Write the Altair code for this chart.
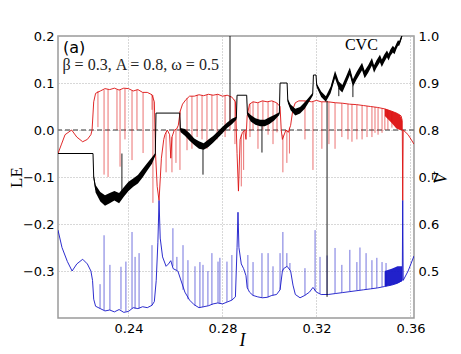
import altair as alt
import pandas as pd

# ---------------- data ----------------
# largest Lyapunov exponent (red), (I, LE)
red_curve = [
    (0.2100, -0.050), (0.2115, -0.030), (0.2130, -0.010), (0.2158, 0.000), (0.2180, -0.015),
    (0.2205, -0.025), (0.2225, -0.020), (0.2240, -0.010), (0.2245, 0.000), (0.2252, 0.060),
    (0.2260, 0.078), (0.2280, 0.083), (0.2300, 0.088), (0.2320, 0.086), (0.2340, 0.089),
    (0.2360, 0.085), (0.2380, 0.089), (0.2400, 0.088), (0.2420, 0.083), (0.2440, 0.086),
    (0.2460, 0.080), (0.2480, 0.080), (0.2500, 0.075), (0.2510, 0.060), (0.2515, -0.050),
    (0.2522, -0.120), (0.2530, -0.150), (0.2540, -0.060), (0.2550, -0.020), (0.2555, -0.010),
    (0.2565, 0.000), (0.2575, -0.010), (0.2580, -0.060), (0.2585, -0.015), (0.2595, 0.000),
    (0.2605, 0.002), (0.2612, 0.010), (0.2620, 0.040), (0.2630, 0.055), (0.2645, 0.065),
    (0.2660, 0.072), (0.2680, 0.072), (0.2700, 0.075), (0.2720, 0.073), (0.2740, 0.076),
    (0.2760, 0.074), (0.2780, 0.076), (0.2800, 0.072), (0.2820, 0.074), (0.2840, 0.070),
    (0.2855, 0.060), (0.2862, -0.050), (0.2868, -0.130), (0.2875, -0.020), (0.2885, -0.005),
    (0.2895, 0.000), (0.2900, -0.020), (0.2905, 0.030), (0.2915, 0.055), (0.2930, 0.060),
    (0.2950, 0.058), (0.2970, 0.062), (0.2990, 0.060), (0.3010, 0.062), (0.3030, 0.058),
    (0.3045, 0.050), (0.3050, 0.000), (0.3055, -0.020), (0.3070, 0.000), (0.3080, -0.005),
    (0.3090, 0.010), (0.3100, 0.045), (0.3110, 0.058), (0.3125, 0.062), (0.3150, 0.062),
    (0.3180, 0.060), (0.3200, 0.063), (0.3220, 0.060), (0.3250, 0.060), (0.3280, 0.058),
    (0.3310, 0.057), (0.3340, 0.055), (0.3370, 0.054), (0.3400, 0.052), (0.3430, 0.050),
    (0.3460, 0.048), (0.3490, 0.045), (0.3520, 0.040), (0.3545, 0.035), (0.3560, 0.030),
    (0.3565, 0.020), (0.3567, -0.150), (0.3569, 0.000), (0.3590, -0.010), (0.3615, -0.030),
]
# red dips (I, top, bottom)
red_spikes = [
    (0.2270, 0.083, 0.006), (0.2296, 0.085, -0.095), (0.2313, 0.087, -0.100), (0.2351, 0.086, 0.000),
    (0.2364, 0.086, -0.078), (0.2385, 0.088, -0.020), (0.2415, 0.084, -0.064), (0.2436, 0.086, 0.000),
    (0.2462, 0.080, -0.049), (0.2500, 0.075, 0.043), (0.2504, 0.074, -0.155),
    (0.2560, -0.005, -0.090), (0.2585, -0.015, -0.090), (0.2602, 0.001, -0.070),
    (0.2619, 0.040, -0.085), (0.2649, 0.068, -0.043), (0.2670, 0.072, -0.040), (0.2692, 0.075, -0.015),
    (0.2713, 0.074, -0.020), (0.2734, 0.075, -0.040), (0.2755, 0.075, 0.000), (0.2777, 0.076, -0.020),
    (0.2811, 0.073, -0.015), (0.2832, 0.072, 0.000), (0.2853, 0.065, -0.030),
    (0.2880, -0.010, -0.120), (0.2890, -0.002, -0.085),
    (0.2917, 0.056, -0.015), (0.2930, 0.060, 0.000), (0.2951, 0.058, -0.040), (0.2972, 0.062, 0.000),
    (0.2994, 0.060, -0.010), (0.3015, 0.062, -0.030), (0.3032, 0.058, -0.005),
    (0.3057, -0.010, -0.090), (0.3074, 0.000, -0.070), (0.3085, 0.005, -0.050),
    (0.3151, 0.062, -0.020), (0.3185, 0.060, -0.085), (0.3223, 0.060, -0.040), (0.3253, 0.060, -0.030),
    (0.3279, 0.058, -0.040), (0.3308, 0.057, -0.015), (0.3334, 0.055, -0.020), (0.3351, 0.055, -0.025),
    (0.3372, 0.054, -0.020), (0.3394, 0.052, -0.020), (0.3415, 0.051, -0.015), (0.3436, 0.050, -0.015),
    (0.3449, 0.049, -0.006), (0.3462, 0.048, -0.010), (0.3479, 0.046, -0.006), (0.3491, 0.045, 0.000),
    (0.3504, 0.043, 0.000), (0.3521, 0.040, 0.005),
]
# dense red band near the end (I, low, high)
red_band = [(0.3491, 0.030, 0.045), (0.3520, 0.015, 0.040), (0.3540, 0.003, 0.036),
            (0.3555, 0.000, 0.032), (0.3564, 0.000, 0.022)]

# second Lyapunov exponent (blue), (I, LE)
blue_curve = [
    (0.2100, -0.213), (0.2117, -0.250), (0.2140, -0.280), (0.2160, -0.300), (0.2180, -0.285),
    (0.2205, -0.275), (0.2225, -0.285), (0.2240, -0.300), (0.2247, -0.320), (0.2252, -0.360),
    (0.2260, -0.375), (0.2280, -0.380), (0.2300, -0.385), (0.2320, -0.383), (0.2340, -0.387),
    (0.2360, -0.382), (0.2380, -0.388), (0.2400, -0.386), (0.2420, -0.378), (0.2440, -0.380),
    (0.2460, -0.376), (0.2480, -0.378), (0.2500, -0.373), (0.2510, -0.365), (0.2518, -0.320),
    (0.2525, -0.240), (0.2530, -0.150), (0.2535, -0.230), (0.2545, -0.270), (0.2560, -0.290),
    (0.2570, -0.285), (0.2580, -0.278), (0.2590, -0.295), (0.2610, -0.300), (0.2620, -0.315),
    (0.2640, -0.345), (0.2660, -0.362), (0.2680, -0.372), (0.2700, -0.378), (0.2720, -0.376),
    (0.2740, -0.374), (0.2760, -0.370), (0.2780, -0.368), (0.2800, -0.370), (0.2820, -0.366),
    (0.2840, -0.362), (0.2855, -0.355), (0.2862, -0.250), (0.2866, -0.175), (0.2870, -0.250),
    (0.2880, -0.285), (0.2890, -0.295), (0.2900, -0.310), (0.2905, -0.335), (0.2915, -0.345),
    (0.2930, -0.352), (0.2950, -0.355), (0.2970, -0.357), (0.2990, -0.356), (0.3010, -0.352),
    (0.3030, -0.350), (0.3045, -0.340), (0.3055, -0.300), (0.3060, -0.295), (0.3075, -0.290),
    (0.3090, -0.300), (0.3100, -0.330), (0.3110, -0.350), (0.3130, -0.357), (0.3150, -0.352),
    (0.3170, -0.345), (0.3185, -0.335), (0.3200, -0.345), (0.3220, -0.350), (0.3250, -0.350),
    (0.3280, -0.348), (0.3310, -0.346), (0.3340, -0.344), (0.3370, -0.342), (0.3400, -0.340),
    (0.3430, -0.338), (0.3460, -0.336), (0.3490, -0.333), (0.3520, -0.330), (0.3545, -0.326),
    (0.3565, -0.320), (0.3567, -0.150), (0.3569, -0.320), (0.3590, -0.300), (0.3615, -0.268),
]
# blue peaks (I, base, top)
blue_spikes = [
    (0.2279, -0.380, -0.328), (0.2296, -0.383, -0.224), (0.2321, -0.383, -0.287), (0.2368, -0.382, -0.291),
    (0.2389, -0.386, -0.280), (0.2415, -0.380, -0.217), (0.2428, -0.380, -0.270), (0.2445, -0.380, -0.262),
    (0.2500, -0.373, -0.245),
    (0.2589, -0.290, -0.209), (0.2606, -0.298, -0.270), (0.2632, -0.340, -0.245), (0.2653, -0.360, -0.277),
    (0.2683, -0.374, -0.290), (0.2704, -0.378, -0.281), (0.2717, -0.377, -0.287), (0.2738, -0.374, -0.300),
    (0.2755, -0.372, -0.262), (0.2781, -0.368, -0.280), (0.2789, -0.369, -0.272), (0.2819, -0.366, -0.280),
    (0.2840, -0.362, -0.266),
    (0.2908, -0.338, -0.266), (0.2930, -0.352, -0.281), (0.2968, -0.357, -0.262), (0.2994, -0.356, -0.262),
    (0.3015, -0.352, -0.290), (0.3045, -0.340, -0.262),
    (0.3057, -0.300, -0.217), (0.3074, -0.290, -0.262), (0.3087, -0.298, -0.283),
    (0.3151, -0.352, -0.294), (0.3194, -0.343, -0.213), (0.3215, -0.348, -0.270), (0.3245, -0.350, -0.267),
    (0.3279, -0.348, -0.251), (0.3308, -0.346, -0.287), (0.3342, -0.344, -0.255), (0.3372, -0.342, -0.281),
    (0.3385, -0.341, -0.250), (0.3411, -0.339, -0.262), (0.3436, -0.338, -0.277), (0.3457, -0.336, -0.272),
    (0.3479, -0.334, -0.281), (0.3496, -0.333, -0.283),
]
blue_band = [(0.3490, -0.333, -0.300), (0.3520, -0.330, -0.295), (0.3545, -0.326, -0.290),
             (0.3564, -0.322, -0.290)]

# current-voltage characteristic (black), (I, V, half-width of the noisy band)
cvc_curve = [
    (0.2100, 0.750, 0.000), (0.2249, 0.750, 0.000), (0.2252, 0.700, 0.005), (0.2260, 0.675, 0.008),
    (0.2280, 0.658, 0.010), (0.2300, 0.650, 0.011), (0.2320, 0.655, 0.011), (0.2340, 0.660, 0.010),
    (0.2360, 0.655, 0.011), (0.2380, 0.668, 0.010), (0.2400, 0.680, 0.010), (0.2420, 0.688, 0.009),
    (0.2440, 0.695, 0.009), (0.2460, 0.708, 0.009), (0.2480, 0.722, 0.008), (0.2500, 0.735, 0.007),
    (0.2514, 0.748, 0.003), (0.2517, 0.836, 0.000), (0.2618, 0.836, 0.000), (0.2621, 0.800, 0.004),
    (0.2640, 0.795, 0.007), (0.2660, 0.785, 0.008), (0.2680, 0.775, 0.007), (0.2700, 0.768, 0.008),
    (0.2720, 0.765, 0.007), (0.2740, 0.772, 0.008), (0.2760, 0.780, 0.007), (0.2780, 0.790, 0.007),
    (0.2800, 0.800, 0.007), (0.2820, 0.810, 0.006), (0.2840, 0.818, 0.006), (0.2859, 0.825, 0.003),
    (0.2862, 0.874, 0.000), (0.2903, 0.874, 0.000), (0.2906, 0.835, 0.004), (0.2920, 0.825, 0.007),
    (0.2940, 0.818, 0.007), (0.2960, 0.815, 0.007), (0.2980, 0.815, 0.007), (0.3000, 0.820, 0.007),
    (0.3020, 0.826, 0.006), (0.3042, 0.835, 0.003), (0.3045, 0.900, 0.000), (0.3075, 0.900, 0.000),
    (0.3078, 0.862, 0.004), (0.3090, 0.848, 0.006), (0.3110, 0.838, 0.007), (0.3130, 0.842, 0.007),
    (0.3150, 0.852, 0.007), (0.3170, 0.866, 0.005), (0.3184, 0.876, 0.003), (0.3187, 0.917, 0.000),
    (0.3198, 0.917, 0.000), (0.3201, 0.895, 0.004), (0.3220, 0.876, 0.006), (0.3240, 0.866, 0.006),
    (0.3260, 0.885, 0.007), (0.3279, 0.918, 0.008), (0.3295, 0.895, 0.008), (0.3310, 0.888, 0.008),
    (0.3325, 0.905, 0.008), (0.3342, 0.925, 0.008), (0.3355, 0.900, 0.008), (0.3370, 0.915, 0.008),
    (0.3394, 0.935, 0.008), (0.3405, 0.918, 0.008), (0.3420, 0.930, 0.008), (0.3436, 0.945, 0.008),
    (0.3445, 0.930, 0.008), (0.3455, 0.940, 0.008), (0.3470, 0.952, 0.008), (0.3478, 0.942, 0.008),
    (0.3488, 0.952, 0.008), (0.3500, 0.962, 0.007), (0.3507, 0.955, 0.007), (0.3515, 0.965, 0.007),
    (0.3525, 0.972, 0.007), (0.3532, 0.968, 0.007), (0.3540, 0.978, 0.006), (0.3547, 0.985, 0.006),
    (0.3552, 0.984, 0.005), (0.3558, 0.992, 0.005), (0.3564, 1.000, 0.003),
]
# isolated black excursions (I, V from, V to)
cvc_spikes = [(0.2372, 0.660, 0.750), (0.2717, 0.766, 0.705), (0.2832, 0.812, 1.000),
              (0.2968, 0.815, 0.752), (0.3245, 0.862, 0.445), (0.3295, 0.890, 0.872),
              (0.3355, 0.895, 0.870)]

x_ticks = [0.24, 0.28, 0.32, 0.36]
le_ticks = [-0.3, -0.2, -0.1, 0.0, 0.1, 0.2]
v_ticks = [0.5, 0.6, 0.7, 0.8, 0.9, 1.0]

# ---------------- tables ----------------
red_df = pd.DataFrame(red_curve, columns=["I", "LE"])
red_sp = pd.DataFrame(red_spikes, columns=["I", "a", "b"])
red_bd = pd.DataFrame(red_band, columns=["I", "lo", "hi"])
blue_df = pd.DataFrame(blue_curve, columns=["I", "LE"])
blue_sp = pd.DataFrame(blue_spikes, columns=["I", "a", "b"])
blue_bd = pd.DataFrame(blue_band, columns=["I", "lo", "hi"])
cvc_df = pd.DataFrame(cvc_curve, columns=["I", "V", "w"])
cvc_df["lo"] = cvc_df["V"] - cvc_df["w"]
cvc_df["hi"] = cvc_df["V"] + cvc_df["w"]
cvc_sp = pd.DataFrame(cvc_spikes, columns=["I", "a", "b"])
zero_df = pd.DataFrame({"LE": [0.0]})

RED = "#dd1111"
BLUE = "#1515c8"

xs = alt.Scale(domain=[0.21, 0.3615], nice=False, zero=False)
les = alt.Scale(domain=[-0.4, 0.2], nice=False, zero=False)
vs = alt.Scale(domain=[0.4, 1.0], nice=False, zero=False)

x_axis = alt.Axis(values=x_ticks, format=".2f", title="I", grid=True,
                  titleFont="Liberation Serif", titleFontStyle="italic", titleFontSize=18,
                  titleFontWeight="normal", titleBaseline="alphabetic", titleY=27, titleX=184)
le_axis = alt.Axis(values=le_ticks, format=".1f", title="LE", grid=True,
                   titleFont="Liberation Serif", titleFontSize=17, titleFontWeight="normal",
                   titleBaseline="middle", titleX=-42, titleY=141, titleAngle=270)
v_axis = alt.Axis(values=v_ticks, format=".1f", title="V\u0304", orient="right", grid=False,
                  titleFont="Liberation Serif", titleFontStyle="italic", titleFontSize=18,
                  titleFontWeight="normal", titleAngle=270, titleBaseline="middle",
                  titleX=27, titleY=142)


def X():
    return alt.X("I:Q", scale=xs, axis=x_axis)


def YL(field):
    return alt.Y(field, scale=les, axis=le_axis)


def YV(field):
    return alt.Y(field, scale=vs, axis=v_axis)


zero_line = alt.Chart(zero_df).mark_rule(color="#777777", strokeDash=[5, 3], strokeWidth=1.3).encode(
    y=YL("LE:Q"))

red_line = alt.Chart(red_df).mark_line(color=RED, strokeWidth=0.9, clip=True).encode(
    x=X(), y=YL("LE:Q"))
red_rules = alt.Chart(red_sp).mark_rule(color=RED, strokeWidth=0.7, opacity=0.85, clip=True).encode(
    x=X(), y=YL("a:Q"), y2="b:Q")
red_area = alt.Chart(red_bd).mark_area(color=RED, opacity=0.95, clip=True).encode(
    x=X(), y=YL("lo:Q"), y2="hi:Q")

blue_line = alt.Chart(blue_df).mark_line(color=BLUE, strokeWidth=0.9, clip=True).encode(
    x=X(), y=YL("LE:Q"))
blue_rules = alt.Chart(blue_sp).mark_rule(color=BLUE, strokeWidth=0.7, opacity=0.85, clip=True).encode(
    x=X(), y=YL("a:Q"), y2="b:Q")
blue_area = alt.Chart(blue_bd).mark_area(color=BLUE, opacity=0.95, clip=True).encode(
    x=X(), y=YL("lo:Q"), y2="hi:Q")

ann_a = alt.Chart(pd.DataFrame({"I": [0.2121], "LE": [0.164], "t": ["(a)"]})).mark_text(
    align="left", baseline="alphabetic", font="DejaVu Sans", fontSize=16, color="black").encode(
    x=X(), y=YL("LE:Q"), text="t:N")
ann_p = alt.Chart(pd.DataFrame({"I": [0.2119], "LE": [0.128],
                                "t": ["\u03b2 = 0.3,  A = 0.8,  \u03c9 = 0.5"]})).mark_text(
    align="left", baseline="alphabetic", font="Liberation Serif", fontSize=16, color="#222222").encode(
    x=X(), y=YL("LE:Q"), text="t:N")
ann_c = alt.Chart(pd.DataFrame({"I": [0.3321], "LE": [0.170], "t": ["CVC"]})).mark_text(
    align="left", baseline="alphabetic", font="Liberation Serif", fontSize=16, color="black").encode(
    x=X(), y=YL("LE:Q"), text="t:N")

le_group = alt.layer(zero_line, red_area, red_rules, red_line, blue_area, blue_rules, blue_line,
                     ann_a, ann_p, ann_c)

cvc_area = alt.Chart(cvc_df).mark_area(color="black", clip=True).encode(
    x=X(), y=YV("lo:Q"), y2="hi:Q")
cvc_line = alt.Chart(cvc_df).mark_line(color="black", strokeWidth=1, clip=True).encode(
    x=X(), y=YV("V:Q"))
cvc_rules = alt.Chart(cvc_sp).mark_rule(color="black", strokeWidth=0.9, clip=True).encode(
    x=X(), y=YV("a:Q"), y2="b:Q")

v_group = alt.layer(cvc_area, cvc_line, cvc_rules)

chart = alt.layer(le_group, v_group).resolve_scale(y="independent").properties(
    width=356, height=282,
    autosize=alt.AutoSizeParams(type="none"),
    padding={"left": 50, "top": 28, "right": 39, "bottom": 30},
).configure_view(
    stroke="#9a9a9a", strokeWidth=1.5
).configure_axis(
    labelFont="DejaVu Sans", labelFontSize=13, labelColor="black",
    domain=False, ticks=False, labelPadding=4,
    gridColor="#b0b0b0", gridDash=[1, 2], gridWidth=1,
    titleColor="black",
)

chart.save("out.html", embed_options={"renderer": "svg", "actions": False})
